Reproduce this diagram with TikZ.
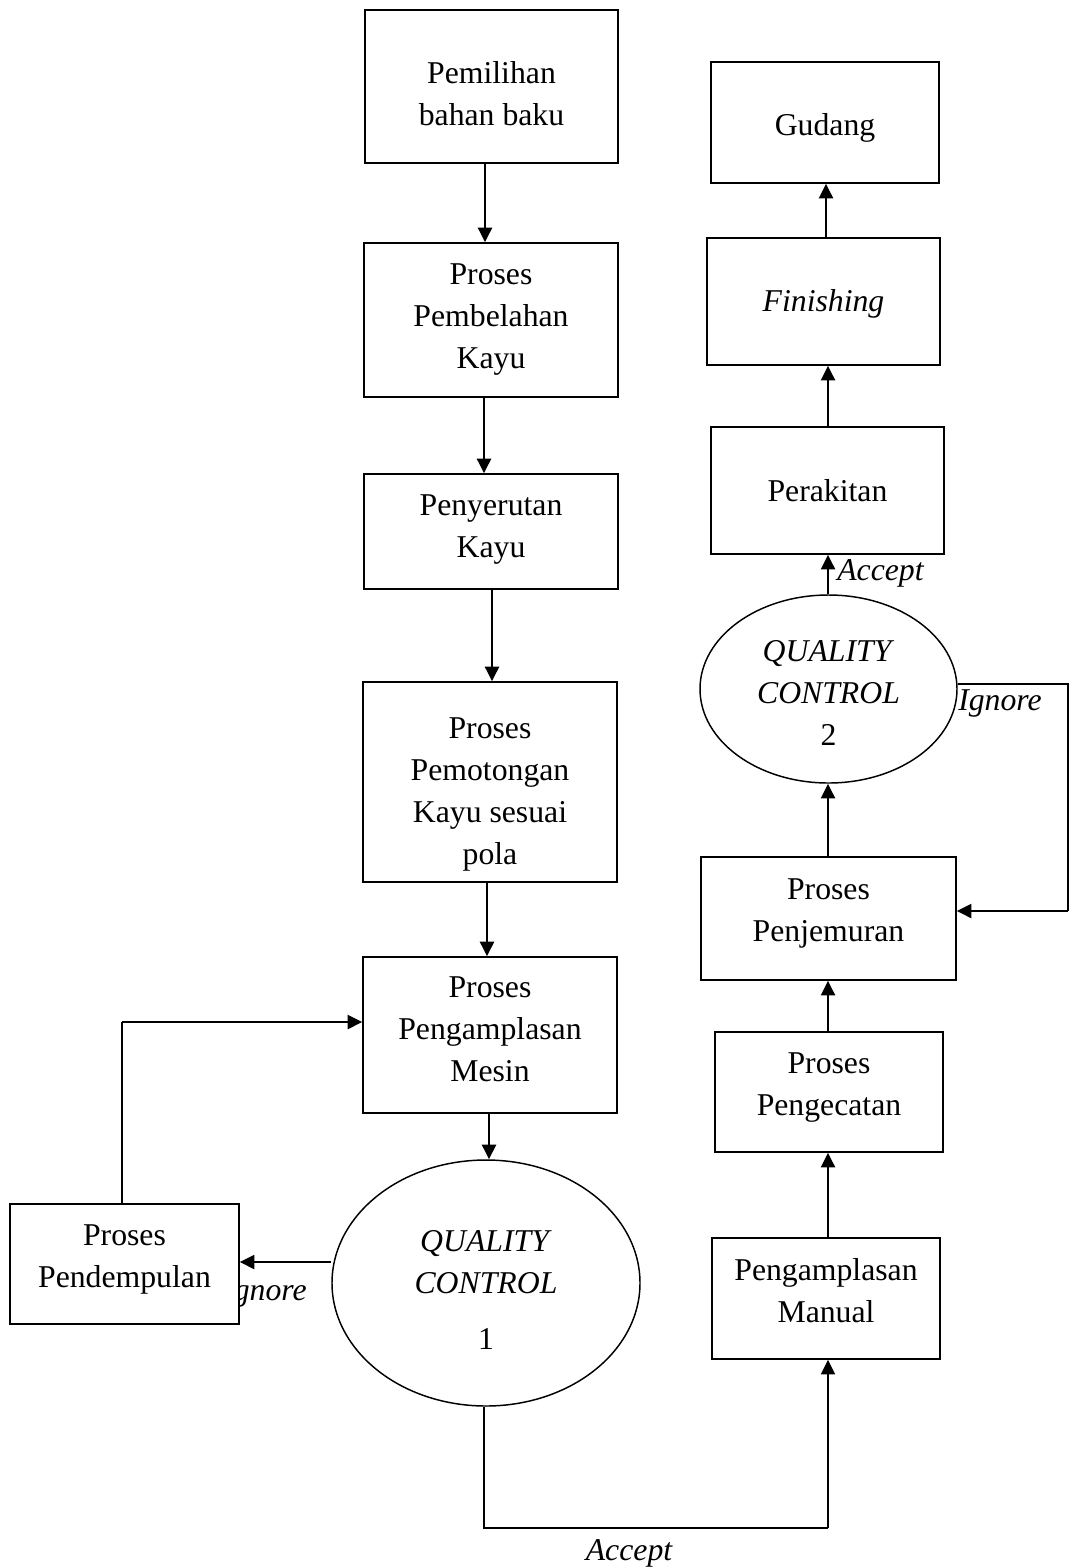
\documentclass[tikz,border=0pt]{standalone}
\usepackage{fontspec}
\setmainfont{Liberation Serif}
\usetikzlibrary{arrows.meta,shapes.geometric}
\begin{document}
\begin{tikzpicture}[x=0.75pt,y=-0.75pt,
  txt/.style={font=\fontsize{23.8}{31.5}\selectfont,align=center,inner sep=0pt},
  box/.style={draw,line width=1.1pt,fill=white,inner sep=0pt},
  qc/.style={ellipse,draw,line width=1.1pt,fill=white,inner sep=0pt},
  arr/.style={line width=1.8pt,-{Triangle[length=11pt,width=10.5pt]}},
  con/.style={line width=1.1pt},
  lbl/.style={txt,font=\fontsize{23.8}{31.5}\selectfont\itshape}]
\useasboundingbox (0,0) rectangle (1070,1567);

% label partly hidden behind the Pendempulan box
\node[lbl,anchor=base east] (ign1) at (307,1300) {Ignore};

% left column
\node[box,minimum width=189.75pt,minimum height=114.75pt] (b1) at (491.5,86.5) {};
\node[box,minimum width=190.5pt,minimum height=115.5pt] (b2) at (491,320) {};
\node[box,minimum width=190.5pt,minimum height=86.25pt] (b3) at (491,531.5) {};
\node[box,minimum width=190.5pt,minimum height=150pt] (b4) at (490,782) {};
\node[box,minimum width=190.5pt,minimum height=117pt] (b5) at (490,1035) {};
\node[qc,minimum width=231pt,minimum height=184.5pt] (qc1) at (486,1283) {};
\node[box,minimum width=171.75pt,minimum height=90pt] (pend) at (124.5,1264) {};

% right column
\node[box,minimum width=171pt,minimum height=90.75pt] (manual) at (826,1298.5) {};
\node[box,minimum width=171pt,minimum height=90pt] (cat) at (829,1092) {};
\node[box,minimum width=191.25pt,minimum height=92.25pt] (jemur) at (828.5,918.5) {};
\node[qc,minimum width=192.75pt,minimum height=141pt] (qc2) at (828.5,689) {};
\node[box,minimum width=174.75pt,minimum height=95.25pt] (rakit) at (827.5,490.5) {};
\node[box,minimum width=174.75pt,minimum height=95.25pt] (finish) at (823.5,301.5) {};
\node[box,minimum width=171pt,minimum height=90.75pt] (gudang) at (825,122.5) {};

% texts of the shapes
\node[txt] (t-b1) at ([yshift=-5.5pt]b1.center) {Pemilihan\\bahan baku};
\node[txt] (t-b2) at (b2.center) {Proses\\Pembelahan\\Kayu};
\node[txt] (t-b3) at ([yshift=1.5pt]b3.center) {Penyerutan\\Kayu};
\node[txt] (t-b4) at ([yshift=-9pt]b4.center) {Proses\\Pemotongan\\Kayu sesuai\\pola};
\node[txt] (t-b5) at ([yshift=4.5pt]b5.center) {Proses\\Pengamplasan\\Mesin};
\node[txt] (t-qc1) at ([yshift=-5.5pt]qc1.center) {\textit{QUALITY}\\\textit{CONTROL}\\[10.5pt]1};
\node[txt] (t-pend) at ([yshift=3.5pt]pend.center) {Proses\\Pendempulan};
\node[txt] (t-manual) at ([yshift=6pt]manual.center) {Pengamplasan\\Manual};
\node[txt] (t-cat) at ([yshift=3.5pt]cat.center) {Proses\\Pengecatan};
\node[txt] (t-jemur) at ([yshift=4pt]jemur.center) {Proses\\Penjemuran};
\node[txt] (t-qc2) at ([yshift=-3pt]qc2.center) {\textit{QUALITY}\\\textit{CONTROL}\\2};
\node[txt] (t-rakit) at (rakit.center) {Perakitan};
\node[txt] (t-finish) at ([yshift=-1.5pt]finish.center) {\textit{Finishing}};
\node[txt] (t-gudang) at ([yshift=-4pt]gudang.center) {Gudang};

% labels
\node[lbl,anchor=base] (acc1) at (629,1560) {Accept};
\node[lbl,anchor=base west] (acc2) at (837,580) {Accept};
\node[lbl,anchor=base west] (ign2) at (958,710) {Ignore};

% left column arrows
\draw[arr] (b1.south -| 485,0) -- (b2.north -| 485,0);
\draw[arr] (b2.south -| 484,0) -- (b3.north -| 484,0);
\draw[arr] (b3.south -| 492,0) -- (b4.north -| 492,0);
\draw[arr] (b4.south -| 487,0) -- (b5.north -| 487,0);
\draw[arr] (b5.south -| 489,0) -- (qc1.north -| 489,0);
\draw[arr] (qc1.west |- 0,1262) -- (pend.east |- 0,1262);
\draw[con] (pend.north -| 122,0) -- (122,1022) coordinate (c1);
\draw[arr] (c1) -- (b5.west |- c1);

% accept path to the right column
\draw[con] (qc1.south -| 484,0) -- (484,1528) -- (828,1528) coordinate (c3);
\draw[arr,line width=1.2pt] (c3) -- (manual.south -| c3);

% right column arrows
\draw[arr] (manual.north -| 828,0) -- (cat.south -| 828,0);
\draw[arr] (cat.north -| 828,0) -- (jemur.south -| 828,0);
\draw[arr] (jemur.north -| 828,0) -- (qc2.south -| 828,0);
\draw[arr] (qc2.north -| 828,0) -- (rakit.south -| 828,0);
\draw[arr] (rakit.north -| 828,0) -- (finish.south -| 828,0);
\draw[arr] (finish.north -| 826,0) -- (gudang.south -| 826,0);

% ignore loop of QC 2
\draw[con] (qc2.east |- 0,684) -- (1068,684) -- (1068,911) coordinate (c2);
\draw[arr] (c2) -- (jemur.east |- c2);
\end{tikzpicture}
\end{document}
